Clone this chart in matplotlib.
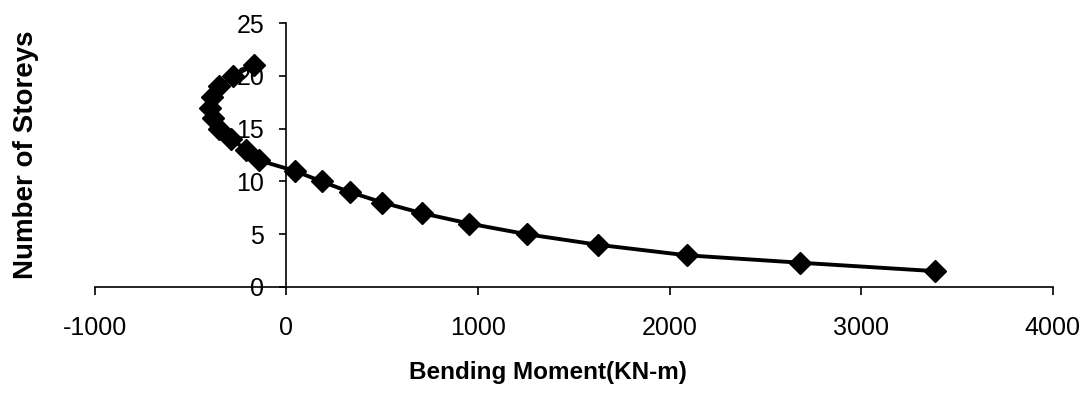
import matplotlib
matplotlib.use("Agg")
import matplotlib.pyplot as plt

# bending moment (KN-m), top storey first
moment = [-170, -280, -350, -390, -400, -385, -350, -290, -210, -145,
          42, 183, 329, 501, 705, 955, 1253, 1625, 2089, 2679, 3384]
storeys = [21, 20, 19, 18, 17, 16, 15, 14, 13, 12,
           11, 10, 9, 8, 7, 6, 5, 4, 3, 2.3, 1.5]

xticks = [-1000, 0, 1000, 2000, 3000, 4000]
yticks = [0, 5, 10, 15, 20, 25]

plt.rcParams['font.family'] = ['Liberation Sans', 'DejaVu Sans']
plt.rcParams['axes.unicode_minus'] = False

fig = plt.figure(figsize=(10.91, 3.98), dpi=100)
ax = fig.add_axes([0.087, 0.279, 0.878, 0.663])

ax.plot(moment, storeys, color='black', lw=2.8, marker='D', ms=11,
        markerfacecolor='black', markeredgecolor='black')

ax.set_xlim(-1000, 4000)
ax.set_ylim(0, 25)
ax.set_xticks(xticks)
ax.set_yticks(yticks)

ax.spines['left'].set_position(('data', 0))
ax.spines['bottom'].set_position(('data', 0))
ax.spines['top'].set_visible(False)
ax.spines['right'].set_visible(False)
for s in ('left', 'bottom'):
    ax.spines[s].set_linewidth(1.2)

ax.tick_params(axis='x', direction='out', length=6, width=1.2, pad=15, labelsize=18)
ax.tick_params(axis='y', direction='out', length=5, width=1.2, pad=11, labelsize=18)

ax.set_xlabel('Bending Moment(KN-m)', fontsize=17.5, fontweight='bold')
ax.set_ylabel('Number of Storeys', fontsize=20, fontweight='bold')
ax.xaxis.set_label_coords(0.473, -0.28)
ax.yaxis.set_label_coords(-0.058, 0.5)

fig.savefig('out.png', dpi=100)
